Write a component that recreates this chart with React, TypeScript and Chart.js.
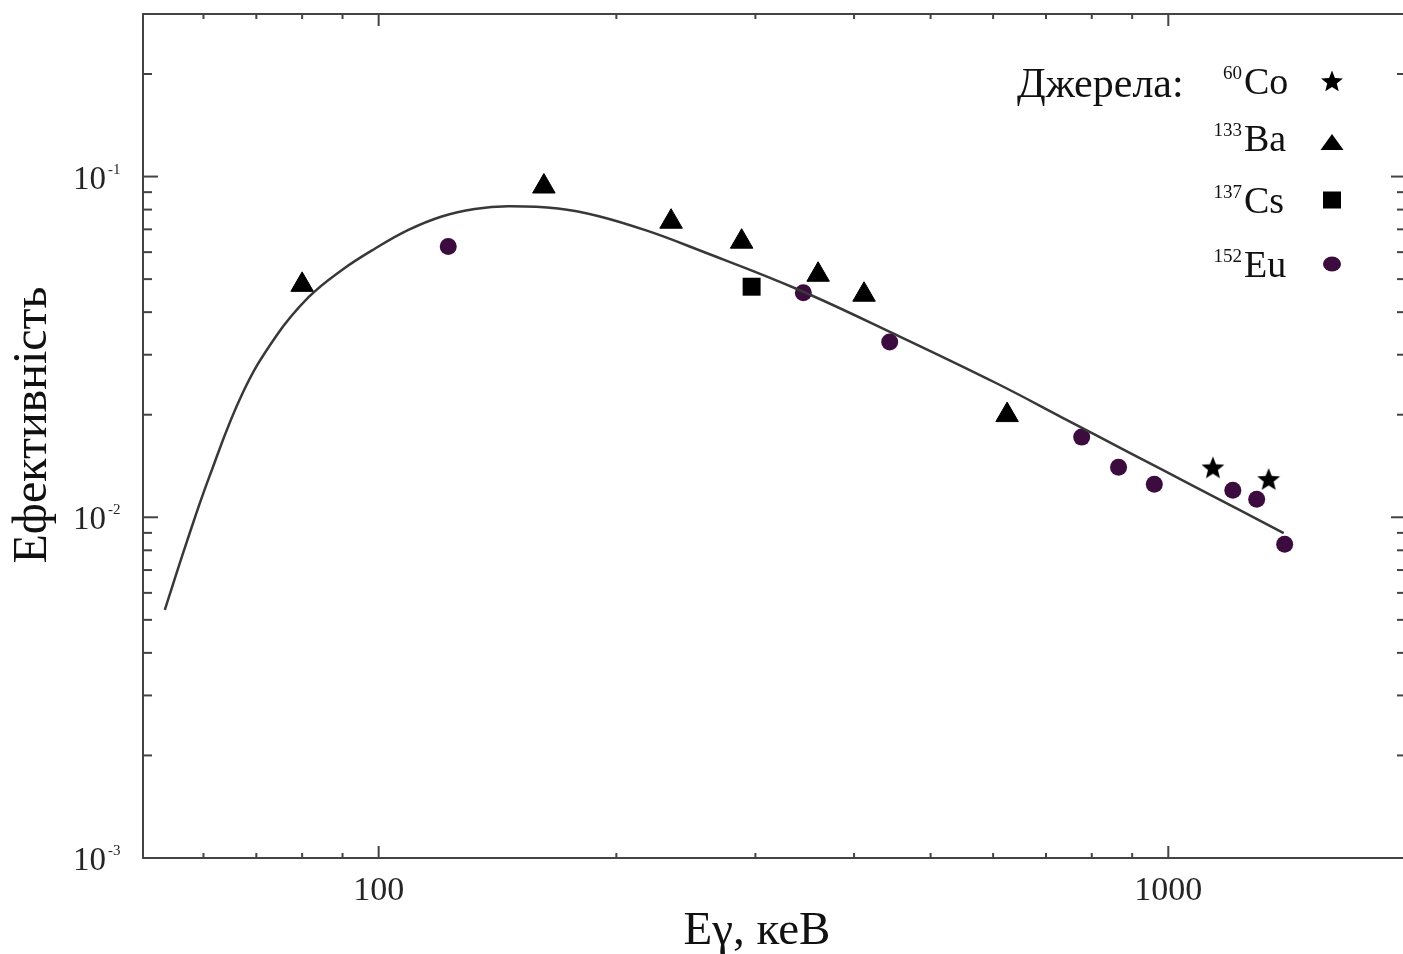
import React, { useEffect, useRef } from "react";
import { Chart, registerables } from "chart.js";

Chart.register(...registerables);

// ---- Data ----
const curveEnergy = [53.6, 57.15, 61.04, 67.24, 74.07, 81.58, 89.85, 98.99, 109.07, 120.2, 132.3, 145.8, 168.7, 189.5, 219.1, 253.3, 338.6, 452.6, 605, 734.9, 889.8, 1081, 1400];
const curveEff = [0.00535, 0.00847, 0.01316, 0.02312, 0.03389, 0.04432, 0.0532, 0.06151, 0.06973, 0.07637, 0.08035, 0.08182, 0.08061, 0.07662, 0.06925, 0.06109, 0.04678, 0.03428, 0.02478, 0.01959, 0.01554, 0.01229, 0.00899];

const coEnergy = [1139, 1340];
const coEff = [0.0140, 0.01294];

const baEnergy = [80.0, 161.9, 234.6, 288.2, 360.2, 411.8, 625];
const baEff = [0.0481, 0.0935, 0.0737, 0.0644, 0.0515, 0.0450, 0.01995];

const csEnergy = [296.7];
const csEff = [0.0475];

const euEnergy = [122.5, 345, 443.8, 776.8, 865, 960, 1207, 1294, 1404];
const euEff = [0.0623, 0.0456, 0.0327, 0.01719, 0.01403, 0.0125, 0.0120, 0.0113, 0.00833];

const xMajorTicks = [100, 1000];
const xMajorLabels = ["100", "1000"];
const xMinorTicks = [60, 70, 80, 90, 200, 300, 400, 500, 600, 700, 800, 900, 2000];

const yMajorTicks = [0.001, 0.01, 0.1];
const yMajorExponents = ["-3", "-2", "-1"];
const yMinorTicks = [0.002, 0.003, 0.004, 0.005, 0.006, 0.007, 0.008, 0.009, 0.02, 0.03, 0.04, 0.05, 0.06, 0.07, 0.08, 0.09, 0.2];

const legendTitle = "Джерела:";
const legendMasses = ["60", "133", "137", "152"];
const legendElements = ["Co", "Ba", "Cs", "Eu"];
const legendMarkers = ["star", "triangle", "rect", "circle"];

const xTitle = "Eγ, кеВ";
const yTitle = "Ефективність";

const EU_COLOR = "#3d0c3f";
const SERIF = "'Liberation Serif', 'DejaVu Serif', serif";

function starPath(ctx: CanvasRenderingContext2D, cx: number, cy: number, R: number, r: number) {
  ctx.beginPath();
  for (let i = 0; i < 10; i++) {
    const ang = -Math.PI / 2 + (i * Math.PI) / 5;
    const rad = i % 2 === 0 ? R : r;
    const px = cx + Math.cos(ang) * rad;
    const py = cy + Math.sin(ang) * rad;
    if (i === 0) ctx.moveTo(px, py);
    else ctx.lineTo(px, py);
  }
  ctx.closePath();
}

function makeStarCanvas(size: number) {
  const c = document.createElement("canvas");
  c.width = size;
  c.height = size;
  const g = c.getContext("2d")!;
  g.fillStyle = "#000";
  starPath(g, size / 2, size / 2 + 1, size / 2, size / 4.6);
  g.fill();
  return c;
}

const decorPlugin = {
  id: "decor",
  afterDraw(chart: any) {
    const { ctx, chartArea: a } = chart;
    const xs = chart.scales.x;
    const ys = chart.scales.y;
    ctx.save();

    // Frame
    ctx.strokeStyle = "#444";
    ctx.lineWidth = 2;
    ctx.strokeRect(a.left, a.top, a.right - a.left, a.bottom - a.top);

    const seg = (x1: number, y1: number, x2: number, y2: number) => {
      ctx.beginPath();
      ctx.moveTo(x1, y1);
      ctx.lineTo(x2, y2);
      ctx.stroke();
    };

    // X ticks (bottom + top, inward)
    xMajorTicks.forEach((v) => {
      const px = xs.getPixelForValue(v);
      seg(px, a.bottom, px, a.bottom - 12);
      seg(px, a.top, px, a.top + 12);
    });
    xMinorTicks.forEach((v) => {
      const px = xs.getPixelForValue(v);
      seg(px, a.bottom, px, a.bottom - 5);
      seg(px, a.top, px, a.top + 5);
    });
    // Y ticks (left + right, inward)
    yMajorTicks.forEach((v) => {
      const py = ys.getPixelForValue(v);
      seg(a.left, py, a.left + 15, py);
      seg(a.right, py, a.right - 15, py);
    });
    yMinorTicks.forEach((v) => {
      const py = ys.getPixelForValue(v);
      seg(a.left, py, a.left + 9, py);
      seg(a.right, py, a.right - 9, py);
    });

    // X tick labels
    ctx.fillStyle = "#252525";
    ctx.font = `34px ${SERIF}`;
    ctx.textAlign = "center";
    ctx.textBaseline = "alphabetic";
    xMajorTicks.forEach((v, i) => {
      ctx.fillText(xMajorLabels[i], xs.getPixelForValue(v), 900);
    });

    // Y tick labels 10^n
    yMajorTicks.forEach((v, i) => {
      const py = ys.getPixelForValue(v);
      ctx.font = `33px ${SERIF}`;
      ctx.textAlign = "right";
      ctx.fillText("10", 106, py + 12);
      ctx.font = `15px ${SERIF}`;
      ctx.textAlign = "left";
      ctx.fillText(yMajorExponents[i], 108, py - 3);
    });

    // Axis titles
    ctx.fillStyle = "#111";
    ctx.font = `47px ${SERIF}`;
    ctx.textAlign = "center";
    ctx.fillText(xTitle, 757, 944);

    ctx.save();
    ctx.translate(46, 425);
    ctx.rotate(-Math.PI / 2);
    ctx.font = `48px ${SERIF}`;
    ctx.textAlign = "center";
    ctx.fillText(yTitle, 0, 0);
    ctx.restore();

    // Legend
    ctx.fillStyle = "#111";
    ctx.font = `42px ${SERIF}`;
    ctx.textAlign = "left";
    ctx.fillText(legendTitle, 1017, 97);

    const baselines = [94, 151, 213, 277];
    const markerY = [82, 143, 200, 264];
    legendElements.forEach((el, i) => {
      const b = baselines[i];
      ctx.fillStyle = "#111";
      ctx.font = `38px ${SERIF}`;
      ctx.textAlign = "left";
      ctx.fillText(el, 1244, b);
      ctx.font = `19px ${SERIF}`;
      ctx.textAlign = "right";
      ctx.fillText(legendMasses[i], 1242, b - 15);

      const mx = 1332;
      const my = markerY[i];
      const kind = legendMarkers[i];
      ctx.fillStyle = "#000";
      if (kind === "star") {
        starPath(ctx, mx, my, 11.5, 5);
        ctx.fill();
      } else if (kind === "triangle") {
        ctx.beginPath();
        ctx.moveTo(mx, my - 9);
        ctx.lineTo(mx + 11.5, my + 7);
        ctx.lineTo(mx - 11.5, my + 7);
        ctx.closePath();
        ctx.fill();
      } else if (kind === "rect") {
        ctx.fillRect(mx - 9, my - 8.5, 18, 17);
      } else {
        ctx.fillStyle = EU_COLOR;
        ctx.beginPath();
        ctx.ellipse(mx, my, 9, 7.5, 0, 0, Math.PI * 2);
        ctx.fill();
      }
    });

    ctx.restore();
  },
};

export default function App() {
  const canvasRef = useRef<HTMLCanvasElement | null>(null);

  useEffect(() => {
    const canvas = canvasRef.current;
    if (!canvas) return;
    const star = makeStarCanvas(24);
    const toXY = (xs: number[], ys: number[]) => xs.map((v, i) => ({ x: v, y: ys[i] }));

    const chart = new Chart(canvas, {
      type: "scatter",
      data: {
        datasets: [
          {
            label: "fit",
            data: toXY(curveEnergy, curveEff),
            showLine: true,
            borderColor: "#383838",
            borderWidth: 2.5,
            pointRadius: 0,
            tension: 0.4,
          } as any,
          {
            label: "Co",
            data: toXY(coEnergy, coEff),
            pointStyle: star,
            pointRadius: 12,
            backgroundColor: "#000",
            borderWidth: 0,
          } as any,
          {
            label: "Ba",
            data: toXY(baEnergy, baEff),
            pointStyle: "triangle",
            pointRadius: 13,
            backgroundColor: "#000",
            borderColor: "#000",
            borderWidth: 1,
          },
          {
            label: "Cs",
            data: toXY(csEnergy, csEff),
            pointStyle: "rect",
            pointRadius: 12.7,
            backgroundColor: "#000",
            borderColor: "#000",
            borderWidth: 0,
          },
          {
            label: "Eu",
            data: toXY(euEnergy, euEff),
            pointStyle: "circle",
            pointRadius: 8.5,
            backgroundColor: EU_COLOR,
            borderColor: EU_COLOR,
            borderWidth: 0,
          },
        ],
      },
      options: {
        animation: false,
        responsive: false,
        devicePixelRatio: 1,
        layout: { padding: { left: 143, top: 14, right: 8, bottom: 96 } },
        plugins: { legend: { display: false }, tooltip: { enabled: false } },
        scales: {
          x: { type: "logarithmic", min: 50.3, max: 2000, display: false },
          y: { type: "logarithmic", min: 0.001, max: 0.3, display: false },
        },
      },
      plugins: [decorPlugin],
    });
    return () => chart.destroy();
  }, []);

  return (
    <div
      style={{
        position: "absolute",
        left: 0,
        top: 0,
        width: 1403,
        height: 954,
        overflow: "hidden",
        background: "#fff",
      }}
    >
      <canvas ref={canvasRef} width={1420} height={954} style={{ display: "block" }} />
    </div>
  );
}
